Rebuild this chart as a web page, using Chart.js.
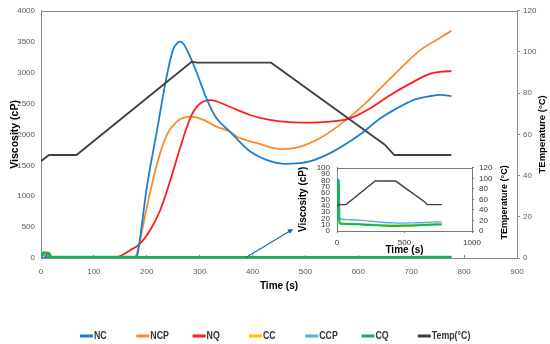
<!doctype html>
<html>

<head>
	<title>Viscosity and temperature profile</title>
	<script src="https://cdn.jsdelivr.net/npm/chart.js@4.4.1/dist/chart.umd.min.js"></script>
	<style>
	body {
		margin: 0;
		background: #fff;
	}
	.wrap {
		position: relative;
		width: 550px;
		height: 344px;
	}
	canvas {
		display: block;
	}
	#inset {
		position: absolute;
		left: 292px;
		top: 156px;
	}
	</style>
</head>

<body>
	<div class="wrap">
		<canvas id="main" width="550" height="344"></canvas>
		<canvas id="inset" width="222" height="102"></canvas>
	</div>
	<script>
		// main chart series (time in s, viscosity in cP)
		var ncTime = [0, 180, 183, 200, 219, 238, 250, 258, 264, 270, 278, 294, 313, 332, 357, 395, 433, 460, 490, 508, 553, 603, 641, 672, 704, 735, 755, 776];
		var ncVisc = [0, 0, 80, 1140, 2050, 2955, 3380, 3480, 3500, 3460, 3330, 3010, 2580, 2260, 2045, 1726, 1566, 1522, 1535, 1562, 1726, 1997, 2256, 2417, 2556, 2618, 2640, 2620];

		var ncpTime = [0, 175, 181, 200, 219, 238, 257, 270, 282, 295, 307, 332, 357, 370, 408, 455, 483, 527, 565, 603, 641, 679, 716, 750, 776];
		var ncpVisc = [0, 0, 70, 817, 1513, 1994, 2207, 2270, 2287, 2270, 2234, 2127, 2046, 1966, 1860, 1763, 1785, 1939, 2154, 2420, 2740, 3061, 3356, 3540, 3676];

		var nqTime = [0, 9, 12, 16, 20, 136, 150, 168, 187, 206, 225, 244, 263, 275, 288, 301, 320, 357, 395, 433, 490, 546, 584, 622, 660, 698, 735, 760, 776];
		var nqVisc = [0, 0, 80, 80, 0, 0, 30, 123, 230, 444, 764, 1245, 1779, 2100, 2367, 2500, 2555, 2447, 2314, 2234, 2190, 2207, 2260, 2420, 2635, 2821, 2981, 3015, 3024];

		var ccTime = [0, 3, 8, 14, 30, 100, 200, 300, 400, 500, 600, 700, 776];
		var ccVisc = [60, 58, 30, 13, 12.5, 12, 11, 10, 9.5, 9.5, 10.5, 11, 11.5];

		var ccpTime = [0, 2, 6, 12, 30, 80, 150, 200, 250, 300, 350, 400, 450, 500, 550, 600, 650, 700, 750, 776];
		var ccpVisc = [92, 90, 40, 19, 18.5, 18, 17.5, 16.5, 15.5, 14.5, 13.5, 13, 12.5, 12.5, 12.8, 13, 13.5, 14, 14.3, 14.5];

		var cqTime = [0, 4, 13, 19, 30, 80, 150, 200, 250, 300, 350, 400, 450, 500, 550, 600, 650, 700, 750, 776];
		var cqVisc = [5, 82, 80, 12, 11.5, 11, 10.5, 10, 9.5, 9, 8.5, 8, 8, 8.2, 8.5, 9, 9.5, 10, 10.3, 10.5];

		// temperature (°C)
		var tempTime = [0, 15, 67, 285, 295, 435, 650, 668, 776];
		var tempVals = [47, 50, 50, 95.3, 94.8, 94.8, 55, 50, 50];

		var xTicks = { min: 0, max: 900, step: 100 };
		var viscTicks = { min: 0, max: 4000, step: 500 };
		var tempTicks = { min: 0, max: 120, step: 20 };
		var insetX = { min: 0, max: 1000, step: 500 };
		var insetVisc = { min: 0, max: 100, step: 10 };

		// arrow from main chart baseline to the inset (data coords)
		var arrowFrom = [386, 0];
		var arrowTo = [477, 470];

		var colors = {
			nc: '#1b80d2',
			ncp: '#fb8a2c',
			nq: '#ff1d1d',
			cc: '#ffc000',
			ccp: '#4fb2ea',
			cq: '#12b455',
			temp: '#404040'
		};

		var plain = "'Liberation Sans', Arial, sans-serif";

		function pts(t, v) {
			return t.map(function(x, i) {
				return { x: x, y: v[i] };
			});
		}

		function plainNum(v) {
			return String(v);
		}

		function line(label, t, v, color, opts) {
			var ds = {
				label: label,
				data: pts(t, v),
				borderColor: color,
				backgroundColor: color,
				borderWidth: 1.8,
				pointRadius: 0,
				cubicInterpolationMode: 'monotone',
				fill: false
			};
			for (var k in opts) ds[k] = opts[k];
			return ds;
		}

		var framePlugin = {
			id: 'frame',
			afterDraw: function(chart, args, opts) {
				var a = chart.chartArea;
				var ctx = chart.ctx;
				ctx.save();
				ctx.strokeStyle = opts.color;
				ctx.lineWidth = 1;
				ctx.beginPath();
				ctx.moveTo(a.left, Math.round(a.top) + 0.5);
				ctx.lineTo(a.right, Math.round(a.top) + 0.5);
				ctx.stroke();
				ctx.translate(opts.rightX, (a.top + a.bottom) / 2 + (opts.shift || 0));
				ctx.rotate(-Math.PI / 2);
				ctx.font = opts.font;
				ctx.fillStyle = '#000';
				ctx.textAlign = 'center';
				ctx.textBaseline = 'middle';
				ctx.fillText(opts.rightTitle, 0, 0);
				ctx.restore();
			}
		};

		// Excel-like legend: evenly spaced short line + narrow label
		var legendPlugin = {
			id: 'lineLegend',
			afterDraw: function(chart, args, opts) {
				if (!opts.show) return;
				var ctx = chart.ctx;
				ctx.save();
				ctx.font = opts.font;
				ctx.textBaseline = 'middle';
				chart.data.datasets.forEach(function(ds, i) {
					var x = opts.left + i * opts.step;
					ctx.fillStyle = ds.borderColor;
					ctx.fillRect(x, opts.y - 1.5, 13, 3);
					ctx.fillStyle = '#333';
					ctx.save();
					ctx.translate(x + 14, opts.y);
					ctx.scale(0.8, 1);
					ctx.fillText(ds.label, 0, 0);
					ctx.restore();
				});
				ctx.restore();
			}
		};

		var arrowPlugin = {
			id: 'arrow',
			afterDatasetsDraw: function(chart, args, opts) {
				if (!opts.show) return;
				var xs = chart.scales.x, ys = chart.scales.y, ctx = chart.ctx;
				var x0 = xs.getPixelForValue(arrowFrom[0]), y0 = ys.getPixelForValue(arrowFrom[1]);
				var x1 = xs.getPixelForValue(arrowTo[0]), y1 = ys.getPixelForValue(arrowTo[1]);
				var ang = Math.atan2(y1 - y0, x1 - x0);
				ctx.save();
				ctx.strokeStyle = ctx.fillStyle = opts.color;
				ctx.lineWidth = 1.2;
				ctx.beginPath();
				ctx.moveTo(x0, y0);
				ctx.lineTo(x1 - 4 * Math.cos(ang), y1 - 4 * Math.sin(ang));
				ctx.stroke();
				ctx.beginPath();
				ctx.moveTo(x1, y1);
				ctx.lineTo(x1 - 6 * Math.cos(ang - 0.45), y1 - 6 * Math.sin(ang - 0.45));
				ctx.lineTo(x1 - 6 * Math.cos(ang + 0.45), y1 - 6 * Math.sin(ang + 0.45));
				ctx.closePath();
				ctx.fill();
				ctx.restore();
			}
		};

		Chart.register(framePlugin, legendPlugin, arrowPlugin);

		window.onload = function() {
			var tickFont = { family: plain, size: 8 };
			var tickColor = '#595959';
			var axisColor = '#8a8a8a';

			new Chart(document.getElementById('main').getContext('2d'), {
				type: 'line',
				data: {
					datasets: [
						line('NC', ncTime, ncVisc, colors.nc, { order: 2 }),
						line('NCP', ncpTime, ncpVisc, colors.ncp, { order: 4 }),
						line('NQ', nqTime, nqVisc, colors.nq, { order: 3 }),
						line('CC', ccTime, ccVisc, colors.cc, { order: 6 }),
						line('CCP', ccpTime, ccpVisc, colors.ccp, { order: 5 }),
						line('CQ', cqTime, cqVisc, colors.cq, { order: 0, borderWidth: 3 }),
						line('Temp(°C)', tempTime, tempVals, colors.temp, { order: 1, yAxisID: 'y1', cubicInterpolationMode: 'default', tension: 0 })
					]
				},
				options: {
					responsive: false,
					animation: false,
					layout: { padding: { top: 8, left: 0, right: 0, bottom: 0 } },
					plugins: {
						legend: { display: false },
						tooltip: { enabled: false },
						frame: { color: axisColor, rightTitle: 'TEmperature (°C)', rightX: 542, font: 'bold 9.5px ' + plain },
						lineLegend: { show: true, left: 80, step: 56.3, y: 336, font: '600 11px ' + plain },
						arrow: { show: true, color: '#1a6ea0' }
					},
					scales: {
						x: {
							type: 'linear',
							min: xTicks.min,
							max: xTicks.max,
							ticks: { stepSize: xTicks.step, color: tickColor, font: tickFont, padding: 12, callback: plainNum },
							grid: { display: true, drawOnChartArea: false, drawTicks: true, tickLength: -3, color: axisColor },
							border: { color: axisColor },
							title: { display: true, text: 'Time (s)', color: '#000', font: { family: plain, size: 10, weight: 'bold' }, padding: { top: 0, bottom: 52 } },
							afterFit: function(s) { s.height = 86; }
						},
						y: {
							min: viscTicks.min,
							max: viscTicks.max,
							ticks: { stepSize: viscTicks.step, color: tickColor, font: tickFont, padding: 6, callback: plainNum },
							grid: { display: false, drawTicks: false },
							border: { color: axisColor },
							title: { display: true, text: 'Viscosity (cP)', color: '#000', font: { family: plain, size: 10.5, weight: 'bold' }, padding: { top: 9, bottom: 0 } },
							afterFit: function(s) { s.width = 41; }
						},
						y1: {
							position: 'right',
							min: tempTicks.min,
							max: tempTicks.max,
							ticks: { stepSize: tempTicks.step, color: tickColor, font: tickFont, padding: 3, callback: plainNum },
							grid: { display: true, drawOnChartArea: false, drawTicks: true, tickLength: 3, color: axisColor },
							border: { color: axisColor },
							afterFit: function(s) { s.width = 33; }
						}
					}
				}
			});

			var insetFont = { family: plain, size: 8 };
			new Chart(document.getElementById('inset').getContext('2d'), {
				type: 'line',
				data: {
					datasets: [
						line('CC', ccTime, ccVisc, colors.cc, { order: 3, borderWidth: 1.4 }),
						line('CCP', ccpTime, ccpVisc, colors.ccp, { order: 2, borderWidth: 1.4 }),
						line('CQ', cqTime, cqVisc, colors.cq, { order: 1, borderWidth: 2 }),
						line('Temp(°C)', tempTime, tempVals, colors.temp, { order: 0, borderWidth: 1.4, yAxisID: 'y1', cubicInterpolationMode: 'default', tension: 0 })
					]
				},
				options: {
					responsive: false,
					animation: false,
					layout: { padding: { top: 6, left: 0, right: 0, bottom: 0 } },
					plugins: {
						legend: { display: false },
						tooltip: { enabled: false },
						frame: { color: '#777', rightTitle: 'TEmperature (°C)', rightX: 213, font: 'bold 9px ' + plain, shift: 3 },
						lineLegend: { show: false },
						arrow: { show: false }
					},
					scales: {
						x: {
							type: 'linear',
							min: insetX.min,
							max: insetX.max,
							ticks: { stepSize: insetX.step, color: '#333', font: insetFont, padding: 5, callback: plainNum },
							grid: { display: true, drawOnChartArea: false, drawTicks: true, tickLength: 2, color: '#777' },
							border: { color: '#777' },
							title: { display: true, text: 'Time (s)', color: '#000', font: { family: plain, size: 10, weight: 'bold' }, padding: { top: 0, bottom: 2 } },
							afterFit: function(s) { s.height = 27; }
						},
						y: {
							min: insetVisc.min,
							max: insetVisc.max,
							ticks: { stepSize: insetVisc.step, color: '#333', font: insetFont, padding: 7, autoSkip: false, callback: plainNum },
							grid: { display: false, drawTicks: false },
							border: { color: '#777' },
							title: { display: true, text: 'Viscosity (cP)', color: '#000', font: { family: plain, size: 10, weight: 'bold' }, padding: { top: 5, bottom: 0 } },
							afterFit: function(s) { s.width = 45; }
						},
						y1: {
							position: 'right',
							min: tempTicks.min,
							max: tempTicks.max,
							ticks: { stepSize: tempTicks.step, color: '#333', font: insetFont, padding: 5, autoSkip: false, callback: plainNum },
							grid: { display: true, drawOnChartArea: false, drawTicks: true, tickLength: 2, color: '#777' },
							border: { color: '#777' },
							afterFit: function(s) { s.width = 42; }
						}
					}
				}
			});
		};
	</script>
</body>

</html>
